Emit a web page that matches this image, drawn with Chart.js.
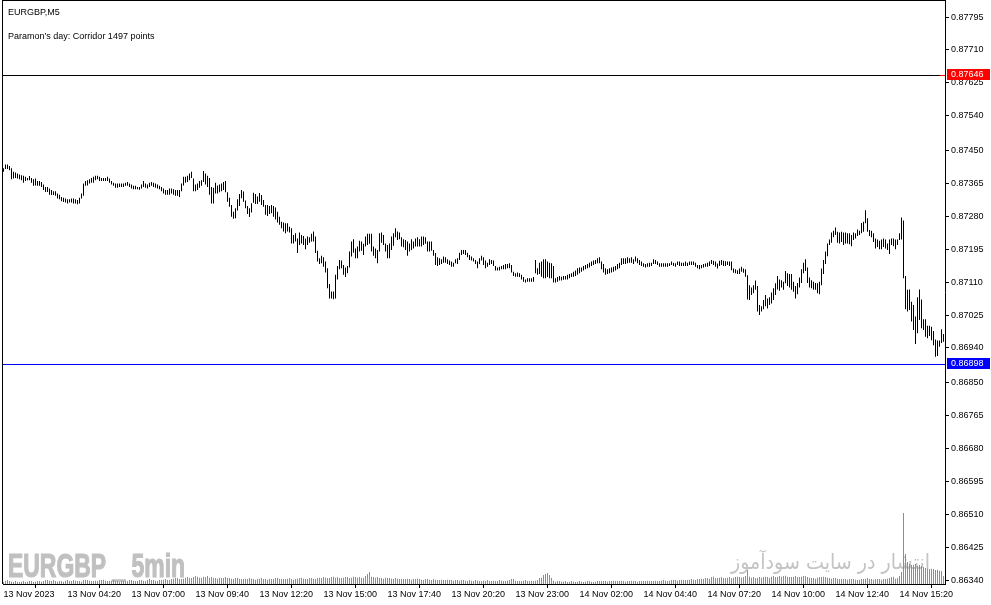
<!DOCTYPE html>
<html>
<head>
<meta charset="utf-8">
<script src="https://cdn.jsdelivr.net/npm/chart.js@4.4.1/dist/chart.umd.min.js"></script>
<style>
  html, body { margin: 0; padding: 0; background: #fff; }
  #wrap { width: 991px; height: 605px; position: relative; }
</style>
</head>
<body>
<div id="wrap"><canvas id="c"></canvas></div>
<script>
// ---- DATA (prices in points: 87404 = 0.87404) ----
const barHighPts = [
87404,87414,87414,87410,87404,87395,87393,87391,87388,87386,
87385,87382,87379,87384,87379,87376,87378,87371,87371,87369,
87362,87356,87356,87352,87348,87345,87345,87339,87336,87330,
87328,87326,87324,87324,87326,87326,87324,87322,87328,87339,
87365,87371,87373,87376,87379,87382,87385,87385,87382,87379,
87379,87379,87382,87378,87371,87367,87365,87365,87365,87365,
87365,87367,87369,87365,87362,87359,87359,87356,87356,87362,
87371,87365,87362,87367,87369,87367,87365,87362,87359,87356,
87352,87348,87348,87352,87352,87350,87348,87348,87348,87365,
87382,87382,87385,87391,87395,87378,87362,87365,87371,87373,
87397,87391,87385,87379,87356,87354,87367,87360,87362,87365,
87369,87371,87342,87328,87309,87292,87301,87324,87338,87348,
87344,87321,87307,87301,87314,87341,87338,87331,87340,87335,
87322,87309,87309,87307,87309,87307,87303,87292,87279,87266,
87264,87262,87262,87253,87249,87232,87236,87223,87238,87232,
87229,87223,87228,87226,87235,87241,87228,87191,87172,87178,
87174,87163,87146,87105,87086,87086,87129,87152,87167,87166,
87154,87148,87152,87189,87215,87221,87197,87202,87217,87215,
87209,87228,87235,87235,87235,87202,87197,87193,87236,87238,
87232,87210,87206,87210,87228,87236,87249,87241,87238,87226,
87221,87219,87215,87210,87221,87215,87223,87226,87221,87228,
87228,87226,87215,87215,87215,87193,87185,87174,87172,87169,
87176,87174,87169,87166,87163,87160,87169,87172,87186,87193,
87193,87193,87186,87180,87176,87172,87167,87163,87172,87178,
87174,87166,87160,87169,87167,87166,87152,87148,87150,87152,
87154,87157,87157,87159,87154,87137,87133,87135,87133,87129,
87123,87117,87120,87120,87120,87123,87167,87146,87160,87163,
87169,87169,87163,87160,87159,87152,87120,87123,87126,87124,
87126,87126,87129,87131,87133,87137,87140,87146,87148,87148,
87152,87154,87157,87160,87163,87166,87167,87172,87174,87163,
87157,87146,87143,87146,87148,87150,87152,87157,87160,87172,
87172,87172,87174,87172,87174,87169,87176,87172,87167,87163,
87159,87157,87159,87160,87160,87169,87167,87163,87159,87159,
87159,87159,87159,87159,87163,87160,87159,87163,87163,87160,
87160,87163,87160,87163,87163,87163,87160,87154,87154,87154,
87157,87158,87160,87163,87167,87165,87163,87158,87165,87167,
87165,87164,87163,87163,87163,87145,87143,87141,87145,87150,
87145,87143,87128,87102,87096,87102,87114,87100,87051,87048,
87064,87077,87068,87071,87083,87094,87107,87126,87117,87115,
87111,87139,87133,87131,87131,87111,87100,87108,87122,87143,
87160,87169,87148,87122,87115,87111,87108,87107,87111,87145,
87167,87189,87210,87220,87238,87243,87251,87240,87238,87240,
87238,87238,87236,87236,87232,87238,87236,87246,87243,87263,
87266,87296,87275,87245,87243,87236,87223,87220,87217,87220,
87223,87220,87210,87220,87223,87223,87220,87220,87236,87277,
87269,87126,87090,87091,87059,87051,87021,87071,87091,87065,
87014,87014,86997,86997,86995,86984,86962,86959,86959,86988,86976
];
const barLowPts = [
87395,87402,87402,87399,87376,87378,87379,87378,87376,87373,
87367,87371,87373,87373,87367,87359,87360,87359,87359,87356,
87348,87343,87343,87336,87335,87335,87333,87326,87324,87319,
87317,87316,87313,87316,87316,87313,87313,87311,87313,87326,
87333,87359,87360,87365,87367,87367,87373,87376,87371,87371,
87371,87371,87371,87367,87362,87359,87354,87354,87356,87356,
87356,87359,87359,87356,87352,87350,87350,87350,87349,87352,
87356,87354,87352,87356,87359,87356,87354,87352,87350,87345,
87339,87336,87336,87336,87339,87336,87333,87333,87330,87345,
87360,87367,87369,87373,87379,87345,87345,87348,87354,87359,
87369,87362,87356,87336,87313,87313,87339,87339,87342,87345,
87348,87342,87318,87305,87279,87274,87275,87295,87307,87327,
87318,87301,87286,87278,87290,87315,87312,87312,87318,87309,
87305,87284,87281,87286,87288,87279,87272,87264,87258,87249,
87241,87236,87241,87238,87210,87210,87215,87185,87206,87210,
87206,87195,87206,87212,87215,87215,87185,87163,87157,87159,
87150,87135,87094,87068,87068,87066,87068,87117,87143,87146,
87129,87123,87133,87148,87176,87186,87172,87172,87189,87191,
87180,87202,87206,87209,87189,87178,87172,87159,87189,87212,
87206,87189,87172,87172,87193,87204,87226,87219,87221,87202,
87200,87193,87178,87189,87193,87197,87202,87202,87202,87202,
87206,87209,87189,87189,87191,87178,87154,87152,87154,87157,
87160,87160,87157,87154,87150,87150,87159,87157,87167,87180,
87183,87180,87174,87167,87166,87163,87157,87146,87157,87166,
87154,87146,87150,87154,87157,87152,87140,87140,87140,87143,
87143,87143,87146,87146,87135,87126,87124,87124,87123,87117,
87111,87109,87111,87111,87111,87111,87133,87129,87131,87124,
87120,87120,87123,87120,87120,87109,87109,87111,87114,87114,
87116,87117,87117,87120,87123,87124,87126,87129,87133,87137,
87140,87143,87146,87148,87152,87154,87157,87159,87159,87143,
87135,87129,87131,87133,87135,87137,87140,87143,87146,87154,
87157,87157,87159,87160,87160,87157,87163,87159,87154,87152,
87150,87148,87150,87150,87152,87157,87157,87154,87150,87150,
87150,87150,87150,87152,87154,87152,87150,87154,87152,87152,
87152,87152,87152,87154,87154,87154,87150,87146,87143,87146,
87148,87150,87150,87152,87157,87154,87150,87145,87152,87154,
87152,87152,87154,87152,87141,87134,87133,87131,87131,87137,
87134,87124,87065,87064,87077,87081,87090,87034,87025,87034,
87040,87048,87042,87051,87055,87064,87077,87091,87088,87096,
87090,87107,87100,87096,87090,87085,87068,87079,87096,87108,
87133,87139,87108,87096,87094,87090,87090,87081,87079,87102,
87131,87157,87177,87206,87212,87226,87232,87212,87210,87214,
87206,87210,87210,87208,87203,87219,87223,87229,87232,87236,
87240,87262,87240,87229,87226,87214,87197,87201,87195,87195,
87201,87197,87193,87183,87206,87203,87195,87206,87219,87220,
87120,87040,87034,87038,87008,86986,86950,86978,87012,86991,
86986,86969,86965,86971,86960,86947,86917,86919,86943,86953,86956
];
const tickVolumes = [
30,45,60,40,35,30,45,30,25,35,
40,30,35,45,40,30,35,40,45,35,
40,55,60,50,45,55,40,35,45,40,
35,50,55,40,45,60,50,45,40,35,
55,65,60,50,45,40,50,45,60,55,
65,50,45,40,50,55,45,40,35,45,
40,50,45,55,60,50,45,40,55,60,
50,45,65,70,55,60,50,45,55,60,
65,70,60,55,75,80,90,85,70,75,
80,95,100,85,90,105,120,110,95,90,
110,100,115,95,105,90,85,80,95,90,
85,100,90,85,80,75,90,85,80,75,
70,80,75,85,80,70,65,75,80,85,
75,70,65,80,75,70,85,90,80,75,
70,75,80,85,70,65,75,80,90,95,
80,75,70,85,90,80,75,85,95,90,
100,95,90,85,105,110,95,100,90,85,
95,100,105,90,95,110,100,95,105,90,
95,120,150,180,110,100,95,105,90,85,
80,95,90,85,80,75,85,80,75,70,
75,70,80,75,65,70,75,80,70,65,
60,70,75,65,60,70,65,60,55,65,
60,55,65,60,55,50,60,55,50,60,
55,50,45,55,50,45,55,50,45,40,
50,45,55,40,45,50,45,40,55,50,
45,40,50,55,75,70,50,45,40,45,
50,55,45,40,50,45,50,60,90,95,
135,150,165,135,90,50,35,45,40,35,
35,40,30,35,40,35,30,35,40,35,
30,35,40,45,35,30,35,40,45,40,
45,40,35,40,45,50,45,40,45,50,
40,35,40,45,50,45,40,35,40,45,
40,45,50,45,40,45,50,45,40,50,
55,50,45,50,55,60,55,50,60,65,
60,55,60,65,70,65,60,75,70,80,
75,85,90,80,100,110,90,85,95,100,
90,85,95,100,90,95,100,110,105,95,
100,120,210,110,95,100,90,85,100,95,
105,110,100,95,110,120,105,100,115,110,
120,125,110,105,100,110,115,105,100,110,
120,115,100,95,90,85,80,95,100,105,
110,100,95,85,80,90,85,80,75,70,
75,70,65,70,75,70,65,60,65,70,
75,80,85,75,70,65,70,75,70,65,
70,75,80,90,100,110,80,90,120,180,
1065,450,330,300,280,290,300,270,280,265,
250,240,230,225,230,220,210,215,200,190,120
];
const xTickLabels = [
  "13 Nov 2023","13 Nov 04:20","13 Nov 07:00","13 Nov 09:40","13 Nov 12:20",
  "13 Nov 15:00","13 Nov 17:40","13 Nov 20:20","13 Nov 23:00","14 Nov 02:00",
  "14 Nov 04:40","14 Nov 07:20","14 Nov 10:00","14 Nov 12:40","14 Nov 15:20"
];
const barsPerXLabel = 32;
const yTickValues = [
  0.87795,0.87710,0.87625,0.87540,0.87450,0.87365,0.87280,0.87195,0.87110,
  0.87025,0.86940,0.86850,0.86765,0.86680,0.86595,0.86510,0.86425,0.86340
];
const levelValues = [0.87646, 0.86898];
const levelColors = ["#000000", "#0000ff"];
const levelLabelColors = ["#ff0000", "#0000ff"];
const titleLines = ["EURGBP,M5", "Paramon\u2019s day: Corridor 1497 points"];
const watermarkLeft = "EURGBP _ 5min";
const watermarkRight = "\u0627\u0646\u062a\u0634\u0627\u0631 \u062f\u0631 \u0633\u0627\u06cc\u062a \u0633\u0648\u062f\u0622\u0645\u0648\u0632";

// ---- CHART ----
const VOL_COLOR = '#32cd32';
const AXIS_FONT = { family: '"Liberation Sans", Arial, sans-serif', size: 9 };
const priceData = barHighPts.map((h, i) => ({ x: i, y: [barLowPts[i] / 100000, h / 100000] }));
const volData = tickVolumes.map((v, i) => ({ x: i, y: v }));
const xTickIdx = xTickLabels.map((_, k) => k * barsPerXLabel);

const decor = {
  id: 'decor',
  beforeDatasetsDraw(chart) {
    const ctx = chart.ctx;
    ctx.save();
    ctx.fillStyle = '#c0c0c0';
    ctx.strokeStyle = '#c0c0c0';
    ctx.lineWidth = 1.2;
    ctx.font = 'bold 33px "Liberation Sans", Arial, sans-serif';
    ctx.textBaseline = 'alphabetic';
    ctx.textAlign = 'left';
    let w = ctx.measureText(watermarkLeft).width;
    ctx.translate(8, 577);
    ctx.scale(177 / w, 1);
    ctx.fillText(watermarkLeft, 0, 0);
    ctx.strokeText(watermarkLeft, 0, 0);
    ctx.restore();

    ctx.save();
    ctx.fillStyle = '#c4c4c4';
    ctx.font = '21px "DejaVu Sans", sans-serif';
    ctx.textBaseline = 'alphabetic';
    ctx.textAlign = 'left';
    w = ctx.measureText(watermarkRight).width;
    ctx.translate(731, 569);
    ctx.scale(199 / w, 1);
    ctx.fillText(watermarkRight, 0, 0);
    ctx.restore();
  },
  afterDraw(chart) {
    const ctx = chart.ctx;
    const a = chart.chartArea;
    const ys = chart.scales.y;
    const xs = chart.scales.x;
    const yv = chart.scales.yv;
    ctx.save();
    // volume bars, pixel-aligned, positioned through the chart's own scales
    ctx.fillStyle = VOL_COLOR;
    const basePx = Math.round(yv.getPixelForValue(0));
    tickVolumes.forEach((v, i) => {
      const x = Math.floor(xs.getPixelForValue(i));
      const top = Math.round(yv.getPixelForValue(v));
      if (basePx > top) ctx.fillRect(x, top, 1, basePx - top);
    });

    ctx.strokeStyle = '#000';
    ctx.lineWidth = 1;
    ctx.beginPath();
    ctx.moveTo(a.left - 0.5, 0); ctx.lineTo(a.left - 0.5, a.bottom);
    ctx.moveTo(a.left - 1, 0.5); ctx.lineTo(a.right + 1, 0.5);
    ctx.stroke();

    levelValues.forEach((v, k) => {
      const y = Math.round(ys.getPixelForValue(v)) + 0.5;
      ctx.strokeStyle = levelColors[k];
      ctx.beginPath();
      ctx.moveTo(a.left, y); ctx.lineTo(a.right, y);
      ctx.stroke();
      ctx.strokeStyle = levelLabelColors[k];
      ctx.beginPath();
      ctx.moveTo(a.right - 5, y); ctx.lineTo(a.right, y);
      ctx.stroke();
      ctx.fillStyle = levelLabelColors[k];
      ctx.fillRect(a.right + 2, Math.floor(y) - 6, 43, 11);
      ctx.fillStyle = '#fff';
      ctx.font = '9px "Liberation Sans", Arial, sans-serif';
      ctx.textBaseline = 'middle';
      ctx.textAlign = 'left';
      ctx.fillText(v.toFixed(5), a.right + 6, Math.floor(y) - 0.5);
    });

    ctx.fillStyle = '#000';
    ctx.font = '9px "Liberation Sans", Arial, sans-serif';
    ctx.textBaseline = 'alphabetic';
    ctx.fillText(titleLines[0], 8, 15);
    ctx.fillText(titleLines[1], 8, 38.5);
    ctx.restore();
  }
};

new Chart(document.getElementById('c'), {
  type: 'bar',
  data: {
    datasets: [
      {
        label: 'EURGBP',
        data: priceData,
        backgroundColor: '#000000',
        grouped: false,
        barThickness: 1,
        maxBarThickness: 1,
        inflateAmount: 0,
        borderWidth: 0,
        yAxisID: 'y'
      },
      {
        label: 'Volume',
        data: volData,
        backgroundColor: VOL_COLOR,
        hoverBackgroundColor: VOL_COLOR,
        grouped: false,
        barThickness: 1,
        maxBarThickness: 1,
        inflateAmount: 0,
        borderWidth: 0,
        yAxisID: 'yv'
      }
    ]
  },
  options: {
    responsive: true,
    maintainAspectRatio: false,
    animation: false,
    devicePixelRatio: 1,
    layout: { padding: { left: 3, top: 0, right: 0, bottom: 0 } },
    plugins: { legend: { display: false }, tooltip: { enabled: false } },
    scales: {
      x: {
        type: 'linear',
        min: -0.25,
        max: 470.75,
        offset: false,
        afterBuildTicks: (s) => { s.ticks = xTickIdx.map(v => ({ value: v })); },
        afterFit: (s) => { s.height = 21; s.paddingLeft = 0; s.paddingRight = 0; },
        grid: { drawOnChartArea: false, drawTicks: true, tickLength: 4, color: '#000' },
        border: { display: true, color: '#000' },
        ticks: {
          autoSkip: false, maxRotation: 0, minRotation: 0, align: 'start', padding: 1,
          color: '#000', font: AXIS_FONT,
          callback: (v) => xTickLabels[Math.round(v / barsPerXLabel)] || ''
        }
      },
      y: {
        type: 'linear',
        position: 'right',
        min: 0.86330,
        max: 0.87839,
        afterBuildTicks: (s) => { s.ticks = yTickValues.map(v => ({ value: v })); },
        afterFit: (s) => { s.width = 46; s.paddingTop = 0; s.paddingBottom = 0; },
        grid: { drawOnChartArea: false, drawTicks: true, tickLength: 4, color: '#000' },
        border: { display: true, color: '#000' },
        ticks: {
          autoSkip: false, padding: 2, color: '#000', font: AXIS_FONT,
          callback: (v) => Number(v).toFixed(5)
        }
      },
      yv: {
        type: 'linear',
        display: false,
        min: 0,
        max: 8760
      }
    }
  },
  plugins: [decor]
});
</script>
</body>
</html>
